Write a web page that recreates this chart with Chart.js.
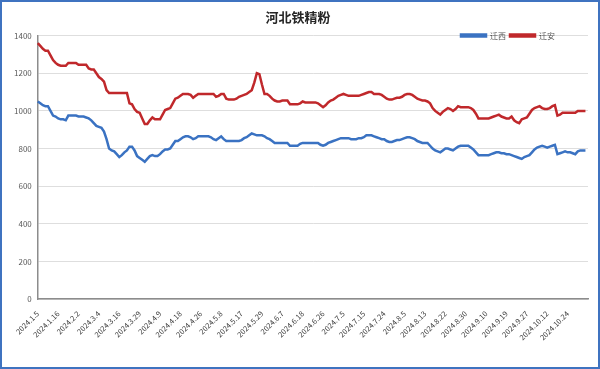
<!DOCTYPE html>
<html>
<head>
<meta charset="utf-8">
<script src="https://cdn.jsdelivr.net/npm/chart.js@4.4.0/dist/chart.umd.min.js"></script>
<style>
  html, body { margin: 0; padding: 0; background: #fff; }
  #wrap { width: 600px; height: 369px; box-sizing: border-box; border: 2px solid #3f73c0; }
</style>
</head>
<body>
<div id="wrap"><canvas id="ironChart"></canvas></div>
<script>
// 横轴上显示的日期（每 8 个数据点一个）
const tickLabels = ["2024.1.5","2024.1.16","2024.2.2","2024.3.4","2024.3.16","2024.3.29","2024.4.9",
  "2024.4.18","2024.4.26","2024.5.8","2024.5.17","2024.5.29","2024.6.7","2024.6.18","2024.6.26",
  "2024.7.5","2024.7.15","2024.7.24","2024.8.5","2024.8.13","2024.8.22","2024.8.30","2024.9.10",
  "2024.9.19","2024.9.27","2024.10.12","2024.10.24"];
const labelStep = 8;

// 迁西
const qianxi = [
  1050,1040,1030,1025,1025,1000,975,970,960,955,
  955,950,975,975,975,975,970,970,970,965,
  960,950,935,920,915,910,890,850,800,790,
  785,770,755,765,780,790,810,810,790,760,
  750,740,730,745,760,765,760,760,770,785,
  795,795,800,820,840,840,850,860,865,865,
  860,850,855,865,865,865,865,865,860,850,
  845,855,865,850,840,840,840,840,840,840,
  845,855,860,870,880,875,870,870,870,865,
  855,850,840,830,830,830,830,830,830,815,
  815,815,815,825,830,830,830,830,830,830,
  830,820,815,820,830,835,840,845,850,855,
  855,855,855,850,850,850,855,855,860,870,
  870,870,865,860,855,850,850,840,835,835,
  840,845,845,850,855,860,860,855,850,840,
  835,830,830,830,815,800,790,785,780,790,
  800,800,795,790,800,810,815,815,815,815,
  805,795,780,765,765,765,765,765,770,775,
  780,780,775,775,770,770,765,760,755,750,
  745,755,760,765,780,795,805,810,815,810,
  805,810,815,820,770,775,780,785,780,780,
  775,770,785,790,790,790,785
];

// 迁安
const qianan = [
  1360,1345,1330,1320,1320,1295,1270,1255,1245,1240,
  1240,1240,1255,1255,1255,1255,1245,1245,1245,1245,
  1225,1220,1220,1200,1180,1170,1155,1110,1095,1095,
  1095,1095,1095,1095,1095,1095,1040,1035,1010,995,
  990,960,930,930,950,965,955,955,955,980,
  1005,1010,1015,1040,1065,1070,1080,1090,1090,1090,
  1085,1070,1080,1090,1090,1090,1090,1090,1090,1090,
  1075,1080,1090,1090,1065,1060,1060,1060,1065,1075,
  1080,1085,1090,1100,1110,1150,1200,1195,1140,1090,
  1090,1080,1065,1055,1050,1050,1055,1055,1055,1035,
  1035,1035,1035,1040,1050,1045,1045,1045,1045,1045,
  1040,1030,1020,1030,1045,1055,1060,1070,1080,1085,
  1090,1085,1080,1080,1080,1080,1080,1085,1090,1095,
  1100,1100,1090,1090,1090,1085,1075,1065,1060,1060,
  1065,1070,1070,1075,1085,1090,1090,1085,1075,1065,
  1060,1055,1055,1050,1040,1015,1000,990,980,995,
  1005,1015,1010,1000,1010,1025,1020,1020,1020,1020,
  1015,1005,985,960,960,960,960,960,965,970,
  975,980,970,965,960,960,970,950,940,935,
  955,960,965,985,1005,1015,1020,1025,1015,1010,
  1010,1015,1025,1030,975,980,990,990,990,990,
  990,990,1000,1000,1000,1000,1000
];

const labels = qianxi.map((v, i) => i % labelStep === 0 ? tickLabels[i / labelStep] : "");

const font = "'Noto Sans CJK SC', 'Noto Sans', sans-serif";

// 图例压到绘图区顶线上，并往左挪一点
const legendNudge = {
  id: "legendNudge",
  afterLayout(chart) {
    const lg = chart.legend;
    lg.top += 14; lg.bottom += 14;
    lg.right -= 29;
  }
};

new Chart(document.getElementById("ironChart"), {
  type: "line",
  data: {
    labels: labels,
    datasets: [
      { label: "迁西", data: qianxi, borderColor: "#3a72c2", backgroundColor: "#3a72c2",
        borderWidth: 2.5, pointRadius: 0, tension: 0 },
      { label: "迁安", data: qianan, borderColor: "#c0282b", backgroundColor: "#c0282b",
        borderWidth: 2.5, pointRadius: 0, tension: 0 }
    ]
  },
  plugins: [legendNudge],
  options: {
    responsive: true,
    maintainAspectRatio: false,
    animation: false,
    layout: { padding: { left: 6, right: 10, top: 0, bottom: 23 } },
    plugins: {
      title: {
        display: true,
        text: "河北铁精粉",
        color: "#262626",
        font: { family: font, size: 13, weight: "bold" },
        padding: { top: 7, bottom: -11 }
      },
      legend: {
        position: "top",
        align: "end",
        labels: { boxWidth: 25, boxHeight: 2, padding: 4, color: "#595959",
                  font: { family: font, size: 8 } }
      },
      tooltip: { enabled: false }
    },
    scales: {
      x: {
        grid: { display: false },
        border: { color: "#8c8c8c", width: 1.5 },
        ticks: {
          autoSkip: false, maxRotation: 45, minRotation: 45, padding: 2,
          color: "#404040", font: { family: font, size: 7.5 },
          callback: (v, i) => labels[i] || null
        }
      },
      y: {
        min: 0, max: 1400,
        grid: { color: "#dedede", drawTicks: false },
        border: { color: "#8c8c8c", width: 1.5 },
        ticks: { stepSize: 200, padding: 6, color: "#595959", font: { family: font, size: 8 },
                 callback: v => v }
      }
    }
  }
});
</script>
</body>
</html>
